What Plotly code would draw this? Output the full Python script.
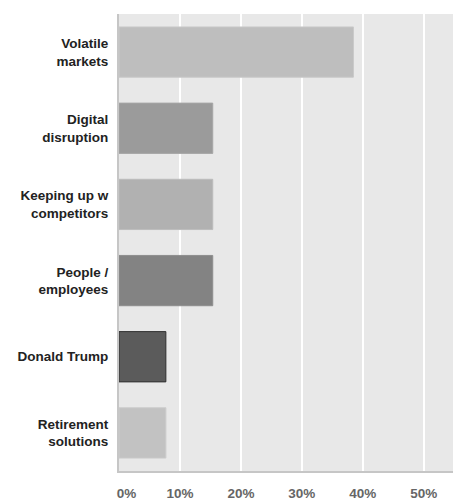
import plotly.graph_objects as go

categories = ["Volatile<br>markets", "Digital<br>disruption", "Keeping up w<br>competitors",
              "People /<br>employees", "Donald Trump", "Retirement<br>solutions"]
values = [38.46, 15.38, 15.38, 15.38, 7.69, 7.69]
bar_colors = ["#bebebe", "#9b9b9b", "#b1b1b1", "#838383", "#5b5b5b", "#c2c2c2"]
line_colors = ["#c9c9c9", "#a6a6a6", "#bcbcbc", "#8e8e8e", "#303030", "#cbcbcb"]
tick_vals = [0, 10, 20, 30, 40, 50]
tick_text = ["\u00a0\u00a0\u00a0\u00a00%", "10%", "20%", "30%", "40%", "50%"]

fig = go.Figure(go.Bar(
    x=values, y=categories, orientation="h",
    marker=dict(color=bar_colors, line=dict(color=line_colors, width=1)),
    width=0.66,
))

fig.update_layout(
    width=453, height=500,
    margin=dict(l=119, r=0, t=14, b=29),
    paper_bgcolor="white", plot_bgcolor="#e8e8e8",
    showlegend=False,
    font=dict(family="Liberation Sans, Arial, sans-serif"),
)
fig.update_xaxes(
    range=[0, 54.8], tickvals=tick_vals, ticktext=tick_text, automargin=False,
    showgrid=True, gridcolor="white", gridwidth=2,
    zeroline=False, showline=True, linecolor="#c6c6c6", linewidth=2,
    ticks="outside", ticklen=9, tickcolor="rgba(0,0,0,0)",
    tickfont=dict(size=13.5, color="#666666", family="Liberation Sans, Arial, sans-serif", weight="bold"),
)
fig.update_yaxes(
    autorange="reversed", showgrid=False, zeroline=False, automargin=False,
    showline=True, linecolor="#c6c6c6", linewidth=2,
    ticks="outside", ticklen=6, tickcolor="rgba(0,0,0,0)",
    tickfont=dict(size=13.5, color="#222222", family="Liberation Sans, Arial, sans-serif", weight="bold"),
)

fig.write_html("out.html")
